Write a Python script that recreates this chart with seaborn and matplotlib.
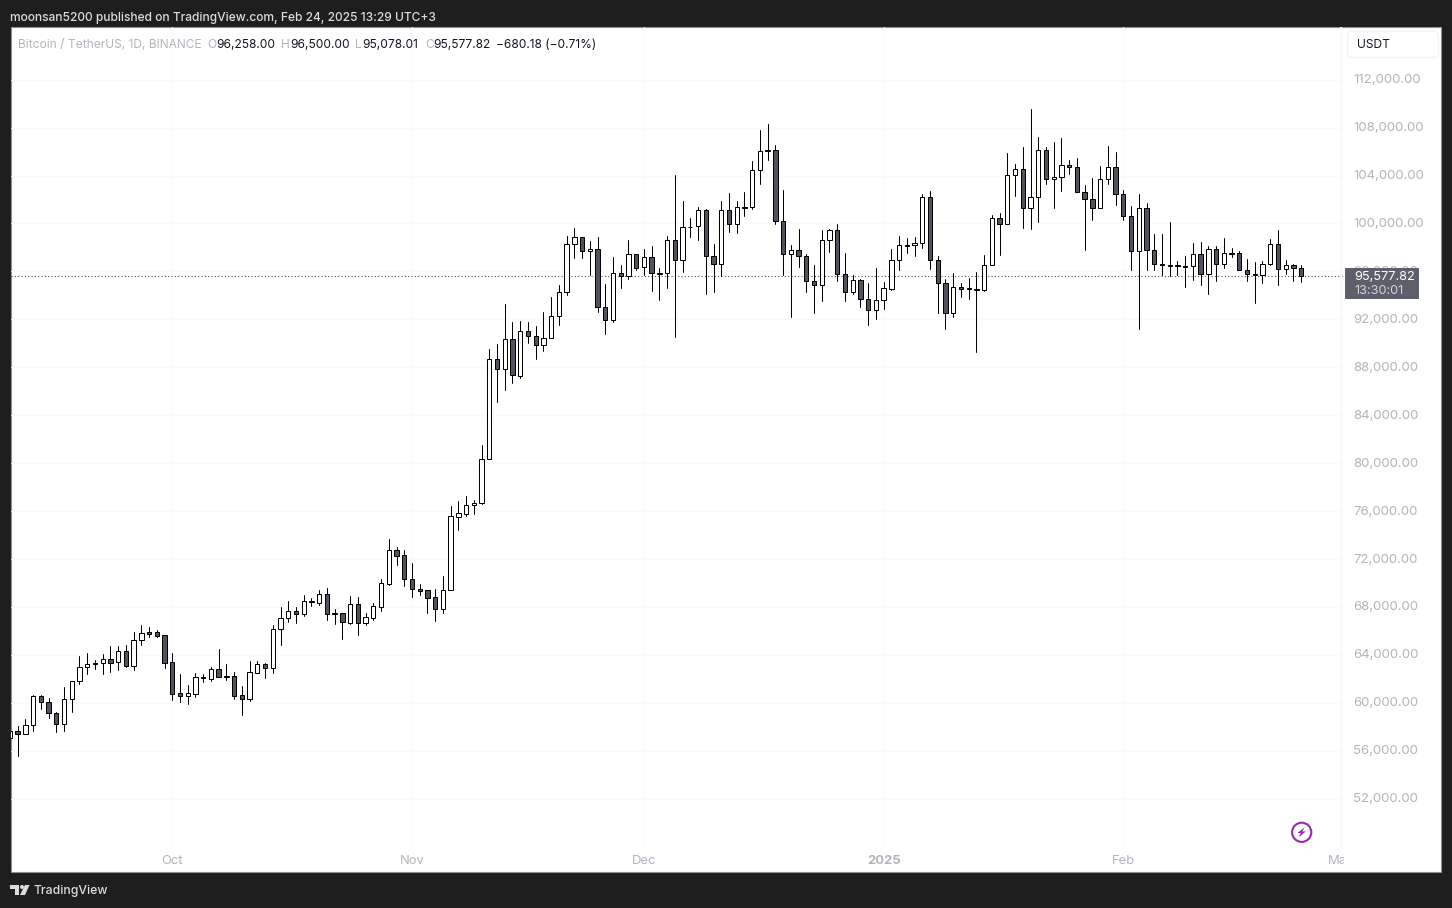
import pandas as pd
import seaborn as sns
import matplotlib.pyplot as plt
import matplotlib.dates as mdates
from matplotlib.lines import Line2D
from matplotlib.patches import Circle, FancyBboxPatch, Polygon, Rectangle
from matplotlib.transforms import Affine2D, Bbox, ScaledTranslation

start_date = "2024-09-10"

opens = [
    57035, 57619, 57369, 58120, 60540, 60039, 59121, 58203, 60290, 61792,
    62961, 63211, 63350, 63628, 63378, 64296, 63100, 65214, 65882, 65882,
    65631, 63378, 60791, 60596, 60763, 62098, 62015, 62794, 62154, 62209,
    60624, 60345, 62515, 63211, 62877, 66132, 67050, 67634, 67437, 68439,
    68355, 69051, 67437, 67465, 66686, 68216, 66686, 67104, 68022, 69941,
    72723, 72306, 70303, 69468, 69385, 68801, 67855, 69385, 75533, 75783,
    76479, 76646, 80318, 88664, 87885, 90333, 87301, 91001, 90584, 89832,
    90414, 92250, 94253, 98260, 98844, 97675, 97842, 93002, 91917, 95839,
    95589, 97425, 96340, 97175, 95811, 95839, 98593, 96924, 99734, 99762,
    101097, 97258, 96590, 101097, 99929, 101320, 101348, 104436, 106077, 106105,
    100179, 97425, 97759, 97258, 95172, 94838, 98593, 99428, 95756, 94253,
    95255, 93669, 92751, 93586, 94559, 96924, 98148, 98176, 98343, 102182,
    96924, 95005, 92501, 94671, 94559, 94476, 94476, 96507, 100429, 99929,
    104018, 104519, 101264, 102182, 106105, 103684, 103851, 104853, 104686, 102600,
    102015, 101264, 103685, 104686, 102433, 100597, 97676, 101264, 97759, 96591,
    96479, 96479, 96424, 96424, 97425, 95756, 97842, 96591, 97481, 97509,
    96090, 95756, 95672, 96591, 98260, 96173, 96507, 96258,
]
highs = [
    58064, 58064, 58621, 60624, 60651, 60373, 59205, 61291, 61792, 63906,
    64129, 63545, 64046, 64741, 64741, 64797, 65882, 66466, 66299, 66049,
    65700, 64129, 62404, 61486, 62460, 62404, 62988, 64463, 63211, 62543,
    61403, 63489, 63461, 63294, 66466, 67968, 68497, 67968, 68995, 68717,
    69413, 69552, 67799, 67465, 68884, 68801, 67465, 68300, 70303, 73669,
    72974, 72723, 71666, 69886, 69413, 69468, 70581, 76423, 76841, 77258,
    76896, 81514, 89499, 89916, 93282, 91752, 91836, 91752, 91418, 92587,
    93864, 94838, 98955, 99623, 98844, 98538, 98872, 94949, 97202, 96535,
    98593, 97425, 97842, 98120, 96256, 98955, 104018, 101876, 100457, 101348,
    101181, 98260, 101876, 102516, 101848, 102599, 105187, 107774, 108303, 106522,
    102766, 98176, 99511, 97425, 96507, 99428, 99511, 99929, 97508, 95672,
    95338, 95032, 96256, 95088, 97842, 98927, 98788, 98872, 102433, 102683,
    97258, 95338, 95839, 95032, 95422, 95923, 97341, 100680, 100847, 105854,
    104936, 106355, 109554, 107190, 106355, 106772, 107106, 105270, 105437, 103184,
    103768, 104770, 106467, 105938, 102767, 101431, 102433, 101682, 99094, 99094,
    100096, 96841, 97258, 98343, 98427, 98093, 98093, 98760, 97926, 97676,
    97008, 96757, 96841, 98677, 99428, 96924, 96591, 96500,
]
lows = [
    56395, 55588, 57369, 57675, 59483, 58732, 57591, 57675, 59260, 61597,
    62432, 62849, 62432, 62599, 62766, 63016, 62766, 64852, 65520, 65520,
    62933, 60262, 60095, 59928, 60512, 61764, 61848, 62182, 61931, 60345,
    59010, 60179, 62515, 62098, 62515, 64852, 66772, 66688, 67270, 68105,
    68189, 66937, 66603, 65351, 66603, 65685, 66519, 66937, 67688, 69858,
    71527, 69774, 68856, 69023, 67521, 66853, 67521, 69385, 74448, 75616,
    75783, 76562, 80318, 85131, 86132, 86717, 87134, 90055, 88720, 89387,
    90414, 91555, 94059, 97147, 97147, 95700, 92640, 90804, 91805, 94643,
    95394, 96145, 95700, 94393, 93641, 94643, 90553, 95978, 98899, 98649,
    94142, 94309, 95589, 99317, 99233, 100624, 101236, 103323, 105326, 99984,
    95700, 92223, 96396, 94309, 92556, 93558, 97647, 95227, 93558, 94142,
    93057, 91555, 92056, 92890, 94420, 96145, 97564, 97314, 97981, 96229,
    92556, 91221, 92223, 93892, 93725, 89301, 94393, 96507, 97397, 99929,
    102321, 99623, 99567, 100151, 103323, 101320, 102739, 104157, 102600, 97787,
    100318, 101264, 103323, 101570, 100318, 96145, 91221, 96145, 96145, 95728,
    95645, 95728, 94727, 95311, 94894, 94142, 95227, 96312, 97230, 96090,
    95227, 93391, 95060, 96507, 94894, 95812, 95227, 95078.01,
]
closes = [
    57619, 57369, 58120, 60540, 60039, 59121, 58203, 60290, 61792, 62961,
    63211, 63350, 63628, 63350, 64296, 63100, 65214, 65798, 65770, 65603,
    63350, 60763, 60596, 60791, 62126, 62154, 62794, 62182, 62209, 60596,
    60345, 62543, 63211, 62877, 66132, 67050, 67634, 67440, 68467, 68495,
    69051, 67382, 67465, 66714, 68216, 66686, 67131, 68049, 69969, 72723,
    72278, 70303, 69468, 69357, 68773, 67855, 69385, 75561, 75811, 76479,
    76646, 80318, 88664, 87885, 90333, 87329, 91001, 90584, 89832, 90414,
    92250, 94253, 98260, 98844, 97675, 97842, 93002, 91917, 95839, 95589,
    97425, 96312, 97175, 95839, 95839, 98593, 96924, 99678, 99678, 101097,
    97258, 96590, 101097, 99929, 101348, 101348, 104436, 106021, 106105, 100179,
    97425, 97759, 97258, 95172, 94838, 98593, 99428, 95756, 94253, 95255,
    93669, 92751, 93586, 94587, 96924, 98176, 98176, 98343, 102182, 96924,
    95005, 92501, 94671, 94559, 94587, 94504, 96507, 100429, 99929, 104018,
    104519, 101264, 102182, 106105, 103684, 103851, 104853, 104686, 102600, 102015,
    101264, 103685, 104686, 102433, 100597, 97676, 101264, 97759, 96591, 96563,
    96507, 96507, 96396, 97425, 95756, 97842, 96591, 97509, 97509, 96090,
    95756, 95672, 96591, 98260, 96173, 96507, 96257, 95577.82,
]

price_ticks = list(range(52000, 116000, 4000))
month_ticks = ["2024-10-01", "2024-11-01", "2024-12-01", "2025-01-01", "2025-02-01", "2025-03-01"]
month_labels = ["Oct", "Nov", "Dec", "2025", "Feb", "Mar"]

last_price = 95577.82
countdown = "13:30:01"
header = "moonsan5200 published on TradingView.com, Feb 24, 2025 13:29 UTC+3"
symbol = "Bitcoin / TetherUS, 1D, BINANCE"
ohlc_text = [("O", "96,258.00", 207, 216), ("H", "96,500.00", 281, 290),
             ("L", "95,078.01", 355, 362), ("C", "95,577.82", 425, 433)]
change_text = "\u2212680.18 (\u22120.71%)"

W, H = 1452, 908
GREY = "#b2b5be"
PX = 0.72  # px -> pt at dpi 100

sns.set_theme(style="white")
plt.rcParams["font.family"] = ["Inter", "DejaVu Sans"]

dates = pd.date_range(start_date, periods=len(opens))
df = pd.DataFrame({"date": dates, "open": opens, "high": highs, "low": lows, "close": closes})
df["candle"] = range(len(df))
wicks = df.melt(id_vars=["date", "candle"], value_vars=["low", "high"], value_name="price")

fig = plt.figure(figsize=(W / 100, H / 100), dpi=100, facecolor="#1e1e1e")
px = Affine2D().scale(1, -1).translate(0, H)

fig.add_artist(Rectangle((10.5, 27), 1430.5, 845, transform=px, facecolor="white",
                         edgecolor="#8f8f8f", linewidth=0.8, zorder=-1))

# plot area in pixels
left, right, top, bottom = 11, 1344, 27, 847
ax = fig.add_axes([left / W, 1 - bottom / H, (right - left) / W, (bottom - top) / H])
ax.patch.set_alpha(0)

usd_per_px = 83.45
ax.set_ylim(112000 - (bottom - 79.7) * usd_per_px, 112000 + (79.7 - top) * usd_per_px)
day0 = mdates.date2num(dates[0])
day_px = 7.732
x_start = 9.9

ax.axhline(last_price, color="#50535e", linestyle=(0, (1, 2)), linewidth=0.8, zorder=1)

sns.lineplot(data=wicks, x="date", y="price", units="candle", estimator=None,
             color="black", linewidth=1 * PX, ax=ax, legend=False, zorder=2)

body_low = df[["open", "close"]].min(axis=1)
body_height = (df["close"] - df["open"]).abs()
body_color = ["white" if c >= o else "#50535e" for o, c in zip(opens, closes)]
ax.bar(df["date"], body_height, bottom=body_low, width=0.56, color=body_color,
       edgecolor="black", linewidth=1 * PX, zorder=3)

ax.set_xlim(day0 + (left - x_start) / day_px, day0 + (right - x_start) / day_px)
ax.set_xlabel("")
ax.set_ylabel("")
sns.despine(ax=ax, left=True, bottom=True)
ax.grid(True, color="#fafafb", linewidth=0.8)
ax.set_axisbelow(True)

ax.yaxis.tick_right()
ax.set_yticks(price_ticks)
ax.set_yticklabels([f"{v:,.2f}" for v in price_ticks])
ax.tick_params(axis="y", length=0, pad=6.5, labelsize=13.2 * PX, labelcolor=GREY)
ax.set_xticks(pd.to_datetime(month_ticks))
ax.set_xticklabels(month_labels)
ax.tick_params(axis="x", length=0, pad=5.5, labelsize=13 * PX, labelcolor=GREY)

up = ScaledTranslation(0, 0.7 / 72, fig.dpi_scale_trans)
for lab in ax.get_yticklabels():
    lab.set_transform(lab.get_transform() + up)
for lab in ax.get_xticklabels():
    if lab.get_text() == "2025":
        lab.set_fontweight("bold")
    if lab.get_text() == "Mar":
        lab.set_clip_on(True)
        lab.set_clip_box(Bbox([[0, 0], [1344, H]]))

fig.add_artist(Line2D([1341, 1341], [27, 847], transform=px, color="#f9f9fa", linewidth=0.8))

# header and legend text
fig.text(10, 18, header, transform=px, color="#dcdcdc", fontsize=12 * PX, va="center", fontweight="medium")
fig.text(18, 45.5, symbol, transform=px, color=GREY, fontsize=12 * PX, va="center")
for letter, value, x0, x1 in ohlc_text:
    fig.text(x0, 45.5, letter, transform=px, color=GREY, fontsize=12 * PX, va="center")
    fig.text(x1, 45.5, value, transform=px, color="#131722", fontsize=12 * PX, va="center")
fig.text(496, 45.5, change_text, transform=px, color="#131722", fontsize=12 * PX, va="center")

# currency button
fig.add_artist(FancyBboxPatch((1350, 34), 86, 21, boxstyle="round,pad=2.5,rounding_size=4", transform=px,
                              facecolor="white", edgecolor="#f0f3fa", linewidth=1, mutation_aspect=1))
fig.text(1357, 44.5, "USDT", transform=px, color="#131722", fontsize=12 * PX, va="center")

# last price tag
fig.add_artist(FancyBboxPatch((1346, 269), 72, 29, boxstyle="round,pad=1,rounding_size=1", transform=px,
                              facecolor="#5d606b", edgecolor="none", zorder=2))
fig.text(1354, 276.5, f"{last_price:,.2f}", transform=px, color="white", fontsize=12.7 * PX, va="center", zorder=3)
fig.text(1354, 290.5, countdown, transform=px, color="#d1d4dc", fontsize=12.7 * PX, va="center", zorder=3)

# lightning icon
fig.add_artist(Circle((1301.7, 832.3), 9.6, transform=px, facecolor="none", edgecolor="#9c27b0", linewidth=1.5))
fig.add_artist(Polygon([(1304.6, 827.2), (1297.4, 833), (1300.8, 833), (1298.6, 837.4), (1305.8, 831.4), (1302.2, 831.4)],
                       transform=px, facecolor="#9c27b0", edgecolor="none"))

# footer logo
logo = "#dcdcdc"
fig.add_artist(Polygon([(10, 885), (19, 885), (19, 895), (15, 895), (15, 889), (10, 889)],
                       transform=px, facecolor=logo, edgecolor="none"))
fig.add_artist(Circle((22, 887), 2, transform=px, facecolor=logo, edgecolor="none"))
fig.add_artist(Polygon([(25, 885), (29.5, 885), (25, 895), (20, 895)], transform=px, facecolor=logo, edgecolor="none"))
fig.text(34, 891, "TradingView", transform=px, color=logo, fontsize=12.2 * PX, va="center", fontweight="medium")

fig.savefig("out.png", dpi=100, facecolor=fig.get_facecolor())
